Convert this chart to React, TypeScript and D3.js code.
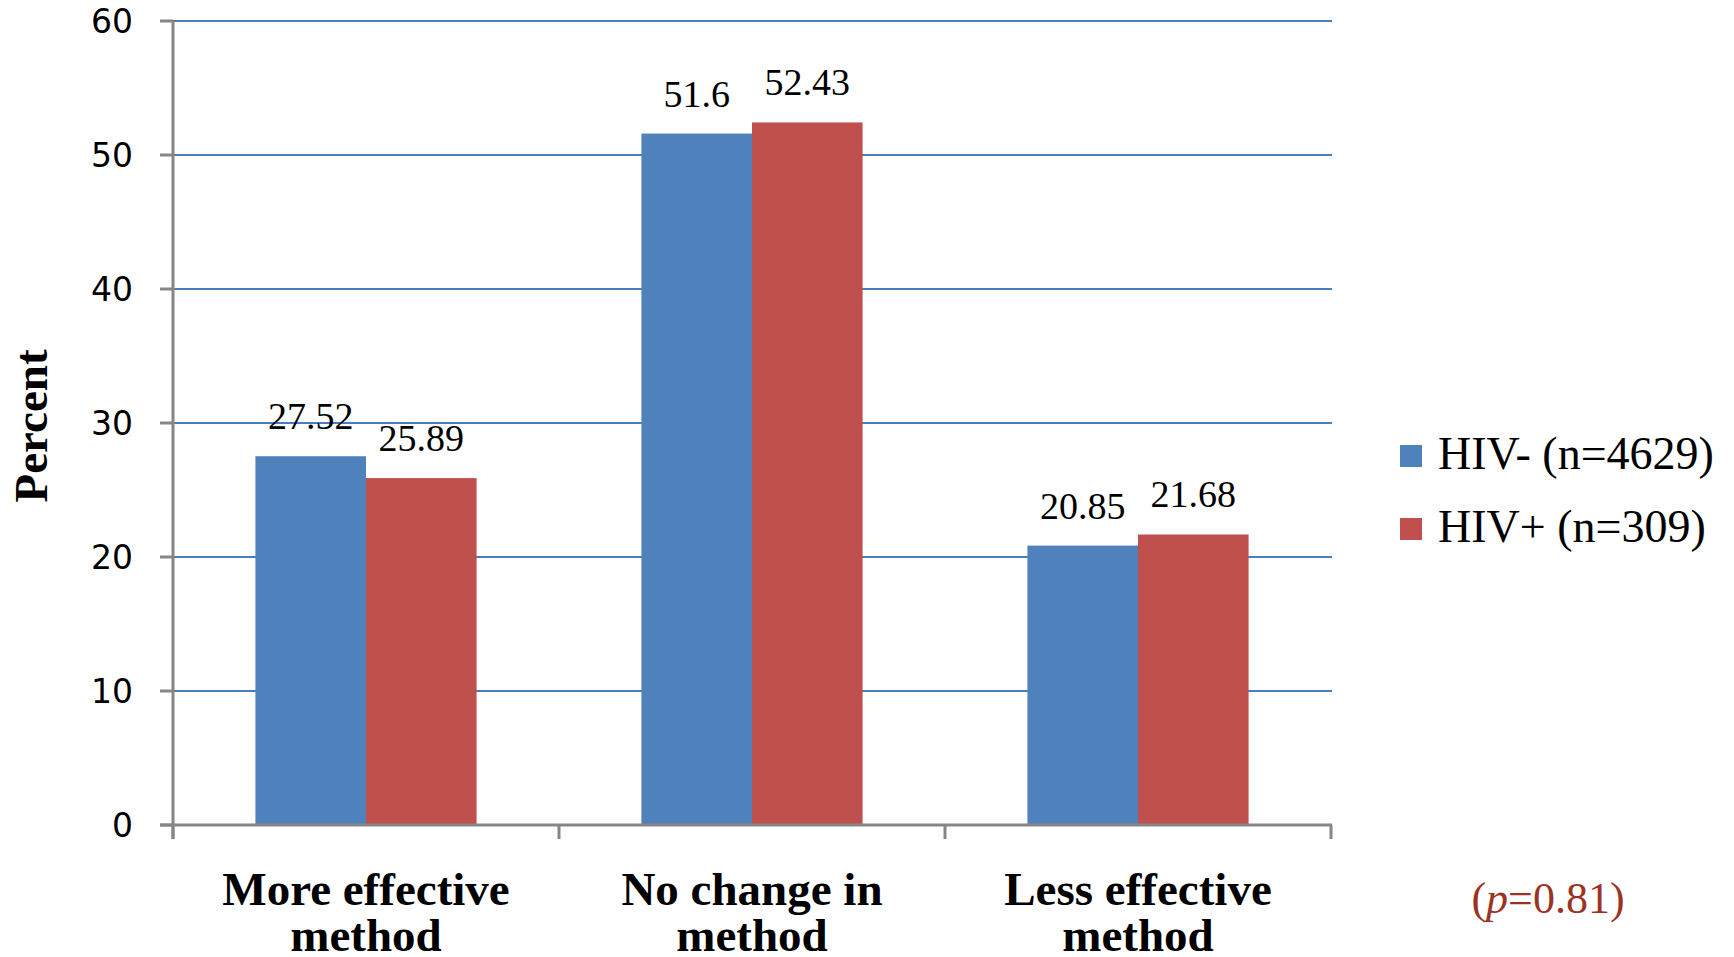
import React from "react";
import * as d3 from "d3";

const categories = ["More effective method", "No change in method", "Less effective method"];
const categoryLines = [
  ["More effective", "method"],
  ["No change in", "method"],
  ["Less effective", "method"],
];
const seriesNames = ["HIV- (n=4629)", "HIV+ (n=309)"];
const hivNegative = [27.52, 51.6, 20.85];
const hivPositive = [25.89, 52.43, 21.68];
const yTicks = [0, 10, 20, 30, 40, 50, 60];
const pValueLabel = "=0.81)";

const colors = ["#4F81BD", "#C0504D"];

const W = 1734;
const H = 957;

export default function App() {
  const x0 = d3
    .scaleBand<string>()
    .domain(categories)
    .range([173, 1331])
    .paddingInner(0.427)
    .paddingOuter(0.2135);
  const x1 = d3
    .scaleBand<string>()
    .domain(seriesNames)
    .range([0, x0.bandwidth()]);
  const y = d3.scaleLinear().domain([0, 60]).range([825, 21]);

  const series = [hivNegative, hivPositive];
  const serif = "'Liberation Serif', 'Times New Roman', serif";

  return (
    <div style={{ position: "absolute", left: 0, top: 0 }}>
      <svg width={W} height={H} style={{ display: "block", background: "#fff" }}>
        {/* gridlines */}
        {yTicks.filter((t) => t > 0).map((t) => (
          <line key={"g" + t} x1={173} x2={1332} y1={y(t)} y2={y(t)} stroke="#4A7EBB" strokeWidth={2} />
        ))}

        {/* bars */}
        {categories.map((c, i) => (
          <g key={c} transform={`translate(${x0(c)},0)`}>
            {seriesNames.map((s, j) => (
              <rect
                key={s}
                x={x1(s)}
                y={y(series[j][i])}
                width={x1.bandwidth()}
                height={y(0) - y(series[j][i])}
                fill={colors[j]}
              />
            ))}
            {seriesNames.map((s, j) => (
              <text
                key={"l" + s}
                x={(x1(s) || 0) + x1.bandwidth() / 2}
                y={y(series[j][i]) - 27}
                textAnchor="middle"
                fontFamily={serif}
                fontSize={38}
                fill="#000"
              >
                {series[j][i]}
              </text>
            ))}
          </g>
        ))}

        {/* y axis */}
        <line x1={173} x2={173} y1={y(60)} y2={839} stroke="#868686" strokeWidth={3} />
        {yTicks.map((t) => (
          <g key={"t" + t}>
            <line x1={160} x2={173} y1={y(t)} y2={y(t)} stroke="#868686" strokeWidth={3} />
            <text
              x={133}
              y={y(t) + 12}
              textAnchor="end"
              fontFamily="'DejaVu Sans', Verdana, sans-serif"
              fontSize={33}
              fill="#000"
            >
              {t}
            </text>
          </g>
        ))}

        {/* x axis */}
        <line x1={160} x2={1332} y1={y(0)} y2={y(0)} stroke="#868686" strokeWidth={3} />
        {[...categories.map((c) => (x0(c) || 0) - (x0.step() * x0.paddingInner()) / 2), 1331].map((xv, i) => (
          <line key={"xt" + i} x1={xv} x2={xv} y1={y(0)} y2={839} stroke="#868686" strokeWidth={3} />
        ))}
        {categories.map((c, i) => (
          <text
            key={"c" + c}
            textAnchor="middle"
            fontFamily={serif}
            fontWeight="bold"
            fontSize={47}
            fill="#000"
          >
            {categoryLines[i].map((ln, k) => (
              <tspan key={k} x={(x0(c) || 0) + x0.bandwidth() / 2} y={905 + k * 46}>
                {ln}
              </tspan>
            ))}
          </text>
        ))}

        {/* y title */}
        <text
          transform="translate(47,426) rotate(-90)"
          textAnchor="middle"
          fontFamily={serif}
          fontWeight="bold"
          fontSize={47}
          fill="#000"
        >
          Percent
        </text>

        {/* legend */}
        {seriesNames.map((s, j) => (
          <g key={"lg" + s}>
            <rect x={1400} y={445 + j * 73} width={22} height={22} fill={colors[j]} />
            <text x={1438} y={469 + j * 73} fontFamily={serif} fontSize={46} fill="#000">
              {s}
            </text>
          </g>
        ))}

        {/* p value */}
        <text x={1548} y={913} textAnchor="middle" fontFamily={serif} fontSize={44} fill="#9B3324">
          (<tspan fontStyle="italic">p</tspan>
          {pValueLabel}
        </text>
      </svg>
    </div>
  );
}
